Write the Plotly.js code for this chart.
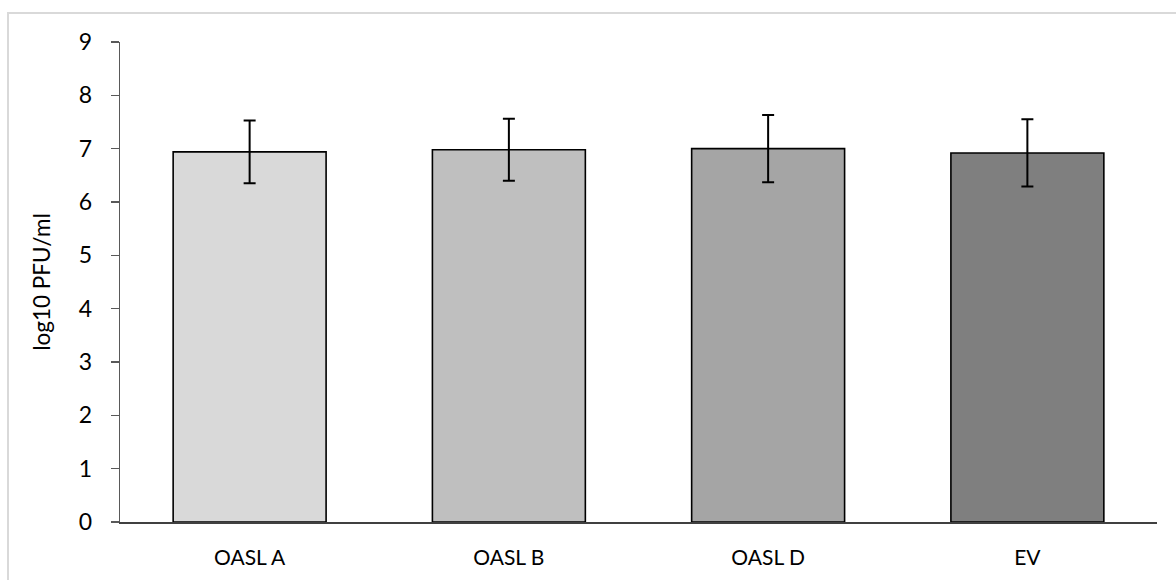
<!DOCTYPE html>
<html>
<head>
<meta charset="utf-8">
<script src="https://cdn.plot.ly/plotly-3.0.1.min.js"></script>
<style>
  html, body { margin: 0; padding: 0; background: #ffffff; overflow: hidden; }
  #wrap { position: relative; width: 1176px; height: 580px; }
  #chart { position: absolute; left: 0; top: 0; width: 1176px; height: 580px; }
  #frame { position: absolute; left: 7px; top: 12px; width: 1200px; height: 600px;
           border-left: 2px solid #d9d9d9; border-top: 2px solid #d9d9d9; pointer-events: none; }
</style>
</head>
<body>
<div id="wrap">
  <div id="chart"></div>
  <div id="frame"></div>
</div>
<script>
  const categories = ["OASL A", "OASL B", "OASL D", "EV"];
  const values = [6.94, 6.98, 7.00, 6.92];
  const errors = [0.59, 0.58, 0.63, 0.63];
  const barColors = ["#d9d9d9", "#bfbfbf", "#a5a5a5", "#7f7f7f"];
  const yTicks = [0, 1, 2, 3, 4, 5, 6, 7, 8, 9];
  const yTitle = "log10 PFU/ml";

  const font = "Lato, 'Open Sans', sans-serif";

  const trace = {
    type: "bar",
    x: categories,
    y: values,
    marker: { color: barColors, line: { color: "#000000", width: 1.6 } },
    error_y: { type: "data", array: errors, visible: true, color: "#000000", thickness: 2, width: 6 },
    hoverinfo: "x+y"
  };

  const layout = {
    width: 1176,
    height: 580,
    margin: { l: 120, r: 19, t: 42, b: 58, pad: 0 },
    paper_bgcolor: "rgba(0,0,0,0)",
    plot_bgcolor: "rgba(0,0,0,0)",
    bargap: 0.41,
    showlegend: false,
    font: { family: font, size: 22, color: "#000000" },
    xaxis: {
      showline: true,
      linecolor: "#404040",
      linewidth: 1.5,
      ticks: "",
      showgrid: false,
      zeroline: false,
      ticklabelstandoff: 16,
      tickfont: { family: font, size: 21, color: "#000000" }
    },
    yaxis: {
      range: [0, 9],
      tickvals: yTicks,
      ticktext: yTicks.map(String),
      showline: true,
      linecolor: "#595959",
      linewidth: 1.3,
      ticks: "outside",
      ticklen: 8,
      tickwidth: 1.3,
      tickcolor: "#595959",
      showgrid: false,
      zeroline: false,
      ticklabelstandoff: 14,
      tickfont: { family: font, size: 23, color: "#000000" },
      title: { text: yTitle, font: { family: font, size: 22.5, color: "#000000" }, standoff: 22 }
    }
  };

  Plotly.newPlot("chart", [trace], layout, { displayModeBar: false, staticPlot: true });
</script>
</body>
</html>
